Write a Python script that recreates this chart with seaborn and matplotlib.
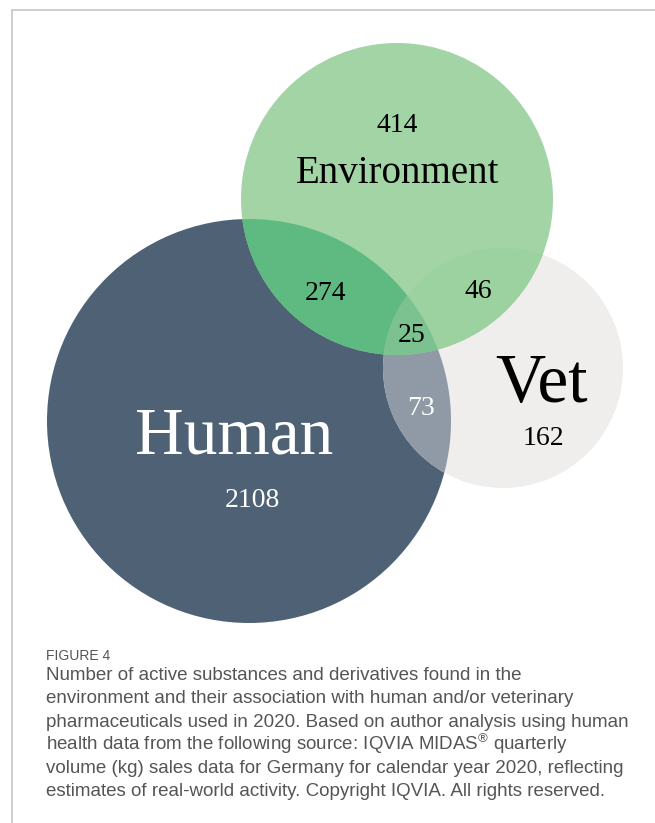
import numpy as np
import seaborn as sns
import matplotlib.pyplot as plt
from matplotlib.patches import Circle, Polygon
from matplotlib.lines import Line2D

# set names and region counts (membership key: Human, Environment, Vet)
set_names = ["Human", "Environment", "Vet"]
region_keys = ["100", "010", "001", "110", "101", "011", "111"]
region_counts = [2108, 414, 162, 274, 73, 46, 25]

caption_title = "FIGURE 4"
caption_lines = [
    "Number of active substances and derivatives found in the",
    "environment and their association with human and/or veterinary",
    "pharmaceuticals used in 2020. Based on author analysis using human",
    r"health data from the following source: IQVIA MIDAS$^{\circledR}$ quarterly",
    "volume (kg) sales data for Germany for calendar year 2020, reflecting",
    "estimates of real-world activity. Copyright IQVIA. All rights reserved.",
]

# layout (pixel coordinates of the figure)
circles = {"Human": (249, 421, 202), "Environment": (397, 199, 156), "Vet": (503, 368, 120)}
set_colors = {"Human": "#4f6275", "Environment": "#a3d4a6", "Vet": "#efeeec"}
region_colors = {"110": "#5fba82", "101": "#8f9aa6", "011": "#9cd1a0", "111": "#7cc291"}
name_pos = {"Human": (234, 453, 48.5, "white"), "Environment": (398, 183, 28, "black"),
            "Vet": (542, 402, 50, "black")}
count_pos = {"100": (252, 507, "white"), "010": (397, 132, "black"), "001": (543, 445, "black"),
             "110": (326, 300, "black"), "101": (421, 415, "white"), "011": (478, 298, "black"),
             "111": (412, 342, "black")}

sns.set_theme(style="white")
plt.rcParams["font.family"] = ["Liberation Serif", "DejaVu Serif"]
plt.rcParams["mathtext.fontset"] = "custom"
plt.rcParams["mathtext.rm"] = "Liberation Sans"


def lens(names, n=3000):
    # boundary points of each circle lying inside all the others -> convex polygon
    pts = []
    t = np.linspace(0, 2 * np.pi, n, endpoint=False)
    for nm in names:
        cx, cy, r = circles[nm]
        p = np.column_stack([cx + r * np.cos(t), cy + r * np.sin(t)])
        keep = np.ones(n, bool)
        for other in names:
            if other == nm:
                continue
            ox, oy, orad = circles[other]
            keep &= np.hypot(p[:, 0] - ox, p[:, 1] - oy) <= orad + 1e-6
        pts.append(p[keep])
    pts = np.vstack(pts)
    c = pts.mean(axis=0)
    order = np.argsort(np.arctan2(pts[:, 1] - c[1], pts[:, 0] - c[0]))
    return pts[order]


fig = plt.figure(figsize=(6.55, 8.23), dpi=100)
ax = fig.add_axes([0, 0, 1, 1])
ax.set_xlim(0, 655)
ax.set_ylim(823, 0)
ax.set_aspect("equal")
ax.axis("off")

for nm in ["Human", "Vet", "Environment"]:
    cx, cy, r = circles[nm]
    ax.add_patch(Circle((cx, cy), r, facecolor=set_colors[nm], edgecolor="none", zorder=1))

for key in ["110", "101", "011", "111"]:
    members = [set_names[i] for i, b in enumerate(key) if b == "1"]
    ax.add_patch(Polygon(lens(members), closed=True, facecolor=region_colors[key],
                         edgecolor="none", zorder=2))

for nm in set_names:
    x, y, fs, col = name_pos[nm]
    ax.text(x, y, nm, ha="center", va="baseline", fontsize=fs, color=col, zorder=3)

for key, cnt in zip(region_keys, region_counts):
    x, y, col = count_pos[key]
    ax.text(x, y, str(cnt), ha="center", va="baseline", fontsize=20, color=col, zorder=3)

# page frame
ax.add_line(Line2D([12, 655], [10, 10], color="#c6c6c6", lw=1.2))
ax.add_line(Line2D([12, 12], [10, 823], color="#c6c6c6", lw=1.2))

ax.text(46, 660, caption_title, fontsize=10, color="#555555", va="baseline",
        family=["Liberation Sans", "DejaVu Sans"])
for i, line in enumerate(caption_lines):
    ax.text(46, 680 + i * 23.3, line, fontsize=13.5, color="#555555", va="baseline",
            family=["Liberation Sans", "DejaVu Sans"])

fig.savefig("out.png", dpi=100)
